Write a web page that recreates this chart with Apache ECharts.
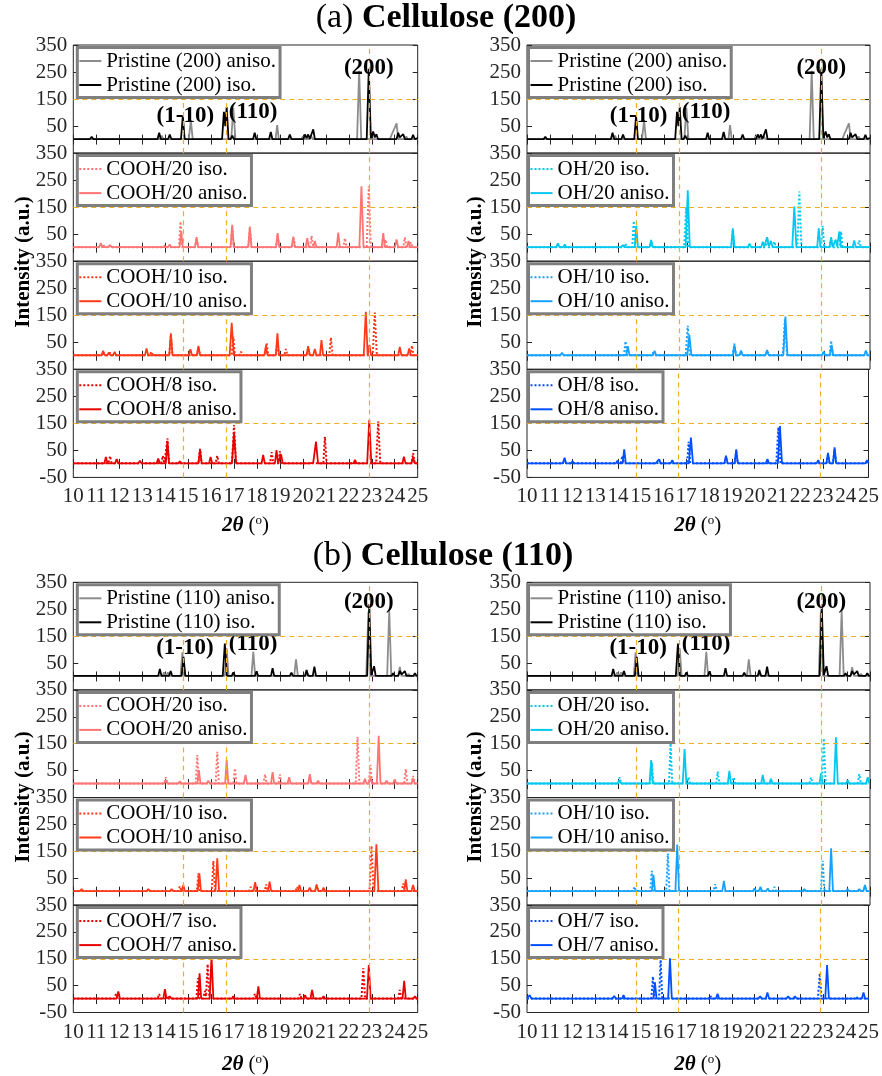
<!DOCTYPE html>
<html>
<head>
<meta charset="utf-8">
<script src="https://cdn.jsdelivr.net/npm/echarts@6/dist/echarts.min.js"></script>
<style>
  html, body { margin: 0; padding: 0; background: #fff; }
  #chart { width: 882px; height: 1076px; }
</style>
</head>
<body>
<div id="chart"></div>
<script>
// ---------- axis ticks / reference lines ----------
const angleTicks = [10, 11, 12, 13, 14, 15, 16, 17, 18, 19, 20, 21, 22, 23, 24, 25];
const intensityTicks = [-50, 50, 150, 250, 350];
const refAngles = [14.78, 16.64, 22.88];
const refIntensity = 150;

// ---------- (a) Cellulose (200): traces as [2θ, intensity] vertices ----------
const pristine200Aniso = [[10,2],[10.73,2],[10.8,8],[10.87,2],[11.33,2],[11.4,8],[11.47,2],[13.78,2],[13.85,15],[13.92,2],[15.03,2],[15.12,72],[15.2,2],[16.88,2],[16.97,118],[17.06,2],[18.81,2],[18.88,54],[18.95,2],[19.93,2],[20.0,12],[20.07,2],[20.28,2],[20.35,15],[20.42,2],[22.36,2],[22.45,255],[22.54,2],[23.79,2],[23.86,17],[23.93,10],[24.08,60],[24.15,2],[24.43,2],[24.5,12],[24.57,2],[25,2]];
const pristine200Iso = [[10,2],[10.73,2],[10.8,10],[10.87,2],[11.13,2],[11.2,8],[11.27,2],[11.43,2],[11.5,8],[11.57,2],[13.67,2],[13.74,25],[13.81,2],[14.13,2],[14.2,19],[14.27,2],[14.69,2],[14.77,88],[14.85,2],[16.48,2],[16.56,103],[16.62,50],[16.68,120],[16.76,2],[16.85,2],[16.92,15],[16.99,2],[17.83,2],[17.9,25],[17.97,2],[18.53,2],[18.6,28],[18.67,2],[19.36,2],[19.43,19],[19.5,2],[20.02,2],[20.09,19],[20.16,5],[20.23,19],[20.3,2],[20.38,2],[20.45,38],[20.52,2],[22.78,2],[22.87,262],[22.96,5],[23.06,30],[23.13,8],[23.2,20],[23.27,2],[24.08,2],[24.15,25],[24.22,8],[24.3,10],[24.37,20],[24.44,2],[24.73,2],[24.8,18],[24.87,2],[25,5]];
const cooh20IsoA = [[10,2],[11.23,2],[11.3,12],[11.37,2],[11.48,2],[11.55,10],[11.62,2],[13.93,2],[14.0,10],[14.07,2],[14.6,2],[14.67,97],[14.74,2],[15.3,2],[15.37,30],[15.44,2],[16.85,2],[16.92,75],[16.99,2],[17.62,2],[17.69,72],[17.76,2],[18.83,2],[18.9,48],[18.97,2],[19.53,2],[19.6,35],[19.67,2],[20.31,2],[20.38,44],[20.45,2],[21.76,2],[21.83,35],[21.9,2],[22.78,2],[22.87,227],[22.96,2],[23.53,2],[23.6,30],[23.67,2],[24.37,2],[24.44,38],[24.51,2],[24.63,2],[24.7,20],[24.77,2],[25,2]];
const cooh20AnisoA = [[10,2],[11.13,2],[11.2,17],[11.27,2],[11.53,2],[11.6,10],[11.67,2],[13.83,2],[13.9,8],[13.97,2],[14.13,2],[14.2,12],[14.27,2],[14.63,2],[14.7,60],[14.77,2],[15.3,2],[15.37,39],[15.44,2],[16.85,2],[16.92,85],[16.99,2],[17.62,2],[17.69,78],[17.76,2],[18.35,2],[18.42,6],[18.49,2],[18.83,2],[18.9,54],[18.97,2],[19.51,2],[19.58,41],[19.65,2],[20.12,2],[20.19,35],[20.26,2],[20.45,2],[20.52,25],[20.59,2],[21.47,2],[21.54,56],[21.61,2],[22.46,2],[22.55,227],[22.64,2],[23.43,2],[23.5,54],[23.57,2],[24.01,2],[24.08,31],[24.15,2],[24.53,2],[24.6,25],[24.67,2],[25,2]];
const cooh10IsoA = [[10,2],[11.23,2],[11.3,12],[11.37,2],[11.53,2],[11.6,12],[11.67,2],[13.33,2],[13.4,15],[13.47,2],[14.18,2],[14.25,78],[14.32,2],[15.38,2],[15.45,30],[15.52,2],[16.9,2],[16.97,70],[17.04,2],[17.23,2],[17.3,15],[17.37,2],[18.35,2],[18.42,48],[18.49,2],[18.82,2],[18.89,50],[18.96,2],[19.19,2],[19.26,25],[19.33,2],[20.16,2],[20.23,30],[20.3,2],[21.15,2],[21.22,68],[21.29,2],[23.04,2],[23.13,160],[23.22,2],[24.68,2],[24.75,38],[24.82,2],[25,2]];
const cooh10AnisoA = [[10,2],[11.23,2],[11.3,18],[11.37,2],[11.48,2],[11.55,12],[11.62,2],[11.73,2],[11.8,14],[11.87,2],[13.12,2],[13.19,27],[13.26,2],[14.18,2],[14.25,83],[14.32,2],[15.03,2],[15.1,24],[15.17,2],[15.38,2],[15.45,37],[15.52,2],[16.81,2],[16.9,122],[16.99,2],[18.32,2],[18.39,37],[18.46,2],[18.82,2],[18.89,83],[18.96,2],[20.16,2],[20.23,36],[20.3,2],[20.45,2],[20.52,25],[20.59,2],[20.74,2],[20.81,58],[20.88,2],[22.65,2],[22.74,163],[22.82,2],[22.9,40],[22.97,2],[24.15,2],[24.22,33],[24.29,2],[24.56,2],[24.63,27],[24.7,2],[25,2]];
const cooh8IsoA = [[10,2],[11.53,2],[11.6,29],[11.67,2],[11.83,2],[11.9,15],[11.97,2],[13.83,2],[13.9,30],[13.97,2],[14.03,2],[14.1,94],[14.17,2],[15.45,2],[15.52,56],[15.59,2],[16.2,2],[16.27,30],[16.34,2],[16.91,2],[17.0,144],[17.09,2],[18.57,2],[18.64,43],[18.71,2],[18.93,2],[19.0,47],[19.07,2],[20.89,2],[20.96,100],[21.03,2],[23.19,2],[23.28,158],[23.37,2],[24.73,2],[24.8,40],[24.87,2],[25,2]];
const cooh8AnisoA = [[10,2],[11.35,2],[11.42,26],[11.49,2],[11.82,2],[11.89,18],[11.96,2],[12.83,2],[12.9,12],[12.97,2],[13.63,2],[13.7,20],[13.77,2],[14.03,2],[14.1,85],[14.17,2],[14.57,2],[14.64,10],[14.71,2],[15.45,2],[15.52,54],[15.59,2],[15.91,2],[15.98,26],[16.05,2],[16.91,2],[17.0,113],[17.09,2],[18.2,2],[18.27,33],[18.34,2],[18.78,2],[18.85,51],[18.92,2],[18.98,2],[19.05,35],[19.12,2],[20.31,2],[20.38,8],[20.45,5],[20.57,82],[20.66,2],[22.2,2],[22.27,15],[22.34,2],[22.8,2],[22.89,162],[22.98,2],[24.33,2],[24.4,27],[24.47,2],[24.73,2],[24.8,25],[24.87,2],[25,2]];
const oh20IsoA = [[10,2],[11.28,2],[11.35,12],[11.42,2],[14.23,2],[14.3,15],[14.37,2],[14.6,2],[14.67,99],[14.74,2],[15.36,2],[15.43,22],[15.5,2],[16.87,2],[16.96,150],[17.05,2],[18.93,2],[19.0,65],[19.07,2],[20.43,2],[20.5,35],[20.57,2],[20.75,2],[20.82,22],[20.89,2],[21.82,2],[21.91,208],[22.0,2],[22.86,2],[22.93,81],[23.0,2],[23.23,2],[23.3,30],[23.37,2],[23.66,2],[23.73,60],[23.8,2],[24.46,2],[24.53,27],[24.6,2],[25,2]];
const oh20AnisoA = [[10,2],[11.28,2],[11.35,16],[11.42,2],[11.58,2],[11.65,12],[11.72,2],[14.12,2],[14.19,10],[14.26,2],[14.71,2],[14.78,81],[14.85,2],[15.36,2],[15.43,29],[15.5,2],[16.94,2],[17.03,212],[17.12,2],[17.69,2],[17.76,8],[17.83,2],[18.93,2],[19.0,72],[19.07,2],[19.66,2],[19.73,15],[19.8,2],[20.24,2],[20.31,22],[20.38,5],[20.5,39],[20.58,5],[20.67,25],[20.74,2],[21.6,2],[21.69,152],[21.78,2],[22.69,2],[22.76,72],[22.83,2],[23.23,2],[23.3,39],[23.37,2],[23.45,2],[23.5,30],[23.56,5],[23.66,60],[23.73,2],[24.24,2],[24.31,27],[24.38,2],[25,2]];
const oh10IsoA = [[10,2],[11.46,2],[11.53,8],[11.6,2],[14.24,2],[14.31,54],[14.38,2],[15.43,2],[15.5,12],[15.57,2],[16.94,2],[17.03,111],[17.12,2],[19.0,2],[19.07,45],[19.14,2],[19.29,2],[19.36,15],[19.43,2],[20.43,2],[20.5,18],[20.57,2],[21.19,2],[21.28,135],[21.37,2],[23.23,2],[23.3,56],[23.37,2],[24.75,2],[24.82,15],[24.89,2],[25,2]];
const oh10AnisoA = [[10,2],[11.46,2],[11.53,11],[11.6,2],[11.87,2],[11.94,5],[12.01,2],[13.47,2],[13.54,8],[13.61,2],[14.34,2],[14.41,36],[14.48,2],[15.51,2],[15.58,18],[15.65,2],[17.01,2],[17.1,77],[17.19,2],[17.33,2],[17.4,8],[17.47,2],[19.0,2],[19.07,40],[19.14,2],[19.29,2],[19.36,19],[19.43,2],[20.43,2],[20.5,21],[20.57,2],[21.21,2],[21.3,145],[21.39,2],[22.9,2],[22.97,15],[23.04,2],[23.25,2],[23.32,40],[23.39,2],[24.75,2],[24.82,19],[24.89,2],[25,2]];
const oh8IsoA = [[10,2],[11.58,2],[11.65,18],[11.72,2],[14.12,2],[14.19,30],[14.26,2],[15.73,2],[15.8,15],[15.87,2],[17.03,2],[17.1,82],[17.17,2],[18.67,2],[18.74,25],[18.81,2],[19.12,2],[19.19,45],[19.26,2],[20.95,2],[21.04,135],[21.13,2],[23.15,2],[23.22,35],[23.29,2],[23.44,2],[23.51,55],[23.58,2],[24.87,2],[24.94,14],[25,2]];
const oh8AnisoA = [[10,2],[11.58,2],[11.65,23],[11.72,2],[11.93,2],[12.0,10],[12.07,2],[13.9,2],[13.97,12],[14.04,2],[14.2,2],[14.27,54],[14.34,2],[14.63,2],[14.7,6],[14.77,2],[15.51,2],[15.58,8],[15.65,2],[15.73,2],[15.8,17],[15.87,2],[16.31,2],[16.38,14],[16.45,2],[17.11,2],[17.2,97],[17.29,2],[18.67,2],[18.74,30],[18.81,2],[19.12,2],[19.19,54],[19.26,2],[20.49,2],[20.56,18],[20.63,2],[21.02,2],[21.11,140],[21.2,2],[22.72,2],[22.79,14],[22.86,2],[23.15,2],[23.22,41],[23.29,2],[23.44,2],[23.51,61],[23.58,2],[24.87,2],[24.94,14],[25,2]];

// ---------- (b) Cellulose (110) ----------
const pristine110Aniso = [[10,2],[10.83,2],[10.9,5],[10.97,2],[13.88,2],[13.95,15],[14.02,2],[14.05,2],[14.12,15],[14.19,2],[14.67,2],[14.75,90],[14.83,2],[16.6,2],[16.68,105],[16.76,2],[17.76,2],[17.84,92],[17.92,2],[19.62,2],[19.7,64],[19.78,2],[20.13,2],[20.2,12],[20.27,2],[22.76,2],[22.85,240],[22.94,2],[23.67,2],[23.76,245],[23.85,2],[24.15,2],[24.22,35],[24.29,2],[24.53,2],[24.6,10],[24.67,2],[25,2]];
const pristine110Iso = [[10,2],[10.8,2],[10.87,7],[10.94,2],[11.23,2],[11.3,5],[11.37,2],[13.7,2],[13.77,28],[13.84,2],[14.17,2],[14.24,20],[14.31,2],[14.72,2],[14.8,73],[14.88,2],[16.51,2],[16.6,122],[16.69,2],[16.9,2],[16.97,15],[17.04,2],[17.91,2],[17.98,19],[18.05,2],[18.61,2],[18.68,31],[18.75,2],[19.43,2],[19.5,14],[19.57,2],[20.09,2],[20.16,24],[20.23,2],[20.43,2],[20.5,36],[20.57,2],[22.8,2],[22.89,268],[22.98,5],[23.1,38],[23.17,2],[23.86,2],[23.93,12],[24.0,2],[24.15,2],[24.22,20],[24.3,8],[24.44,20],[24.51,2],[24.81,2],[24.88,12],[24.95,2],[25,2]];
const cooh20IsoB = [[10,2],[11.23,2],[11.3,6],[11.37,2],[13.96,2],[14.03,25],[14.1,2],[15.33,2],[15.4,108],[15.47,2],[16.2,2],[16.27,120],[16.34,2],[16.97,2],[17.04,58],[17.11,2],[18.28,2],[18.35,36],[18.42,2],[18.93,2],[19.0,36],[19.07,2],[20.23,2],[20.3,20],[20.37,2],[22.3,2],[22.38,176],[22.46,2],[22.87,2],[22.94,71],[23.01,2],[24.41,2],[24.48,56],[24.55,2],[24.73,2],[24.8,30],[24.87,2],[25,2]];
const cooh20AnisoB = [[10,2],[11.23,2],[11.3,6],[11.37,2],[11.73,2],[11.8,8],[11.87,2],[13.96,2],[14.03,15],[14.1,2],[14.57,2],[14.64,10],[14.71,2],[15.4,2],[15.47,52],[15.54,2],[15.81,2],[15.88,12],[15.95,2],[16.61,2],[16.68,89],[16.75,2],[17.43,2],[17.5,34],[17.57,2],[18.61,2],[18.68,44],[18.75,2],[19.33,2],[19.4,25],[19.47,2],[20.23,2],[20.3,37],[20.37,2],[20.59,2],[20.66,12],[20.73,2],[22.63,2],[22.7,20],[22.77,2],[22.87,2],[22.94,25],[23.01,2],[23.22,2],[23.3,179],[23.38,2],[23.57,2],[23.64,12],[23.71,2],[23.93,2],[24.0,18],[24.07,2],[24.73,2],[24.8,21],[24.87,2],[25,2]];
const cooh10IsoB = [[10,2],[11.73,2],[11.8,6],[11.87,2],[14.57,2],[14.64,20],[14.71,2],[15.38,2],[15.45,68],[15.52,2],[16.03,2],[16.1,114],[16.17,2],[17.66,2],[17.73,18],[17.8,2],[18.33,2],[18.4,27],[18.47,2],[19.68,2],[19.75,18],[19.82,2],[20.53,2],[20.6,20],[20.67,2],[22.9,2],[22.99,170],[23.08,2],[24.3,2],[24.37,30],[24.44,2],[25,2]];
const cooh10AnisoB = [[10,2],[10.29,2],[10.36,10],[10.43,2],[11.73,2],[11.8,8],[11.87,2],[13.2,2],[13.27,10],[13.34,2],[14.21,2],[14.28,10],[14.35,2],[14.72,2],[14.79,25],[14.86,2],[15.42,2],[15.49,68],[15.56,2],[16.19,2],[16.27,124],[16.35,2],[17.85,2],[17.92,35],[17.99,2],[18.48,2],[18.55,37],[18.62,2],[19.78,2],[19.85,25],[19.92,2],[20.23,2],[20.3,15],[20.37,2],[20.53,2],[20.6,27],[20.67,2],[20.83,2],[20.9,15],[20.97,2],[22.03,2],[22.1,8],[22.17,2],[23.11,2],[23.2,176],[23.29,2],[24.41,2],[24.48,46],[24.55,2],[24.73,2],[24.8,25],[24.87,2],[25,2]];
const cooh7IsoB = [[10,2],[11.79,2],[11.86,20],[11.93,2],[13.67,2],[13.74,19],[13.81,2],[15.36,2],[15.43,78],[15.5,2],[15.66,2],[15.73,30],[15.78,10],[15.85,130],[15.93,2],[17.84,2],[17.91,20],[17.98,2],[19.8,2],[19.87,19],[19.94,2],[22.55,2],[22.63,115],[22.71,2],[24.15,2],[24.22,34],[24.29,2],[25,2]];
const cooh7AnisoB = [[10,2],[11.89,2],[11.96,28],[12.03,2],[12.25,2],[12.32,8],[12.39,2],[13.92,2],[13.99,37],[14.06,2],[14.13,2],[14.2,10],[14.27,2],[14.86,2],[14.93,8],[15.0,2],[15.43,2],[15.5,96],[15.57,2],[15.94,2],[16.02,160],[16.1,2],[16.9,2],[16.97,10],[17.04,2],[17.99,2],[18.06,47],[18.13,2],[20.02,2],[20.09,15],[20.16,2],[20.33,2],[20.4,34],[20.47,2],[20.83,2],[20.9,10],[20.97,2],[22.79,2],[22.87,127],[22.95,2],[24.34,2],[24.41,68],[24.48,2],[24.81,2],[24.88,10],[24.95,2],[25,2]];
const oh20IsoB = [[10,2],[13.98,2],[14.05,25],[14.12,2],[15.39,2],[15.46,80],[15.53,2],[16.21,2],[16.28,151],[16.35,2],[16.99,2],[17.06,25],[17.13,2],[18.27,2],[18.34,46],[18.41,2],[18.97,2],[19.04,25],[19.11,2],[22.35,2],[22.42,25],[22.49,2],[22.9,2],[22.98,170],[23.06,2],[24.46,2],[24.53,37],[24.6,2],[25,2]];
const oh20AnisoB = [[10,2],[11.36,2],[11.43,8],[11.5,2],[13.98,2],[14.05,15],[14.12,2],[15.36,2],[15.43,89],[15.5,2],[16.81,2],[16.89,130],[16.97,2],[18.78,2],[18.85,49],[18.92,2],[20.24,2],[20.31,34],[20.38,2],[20.6,2],[20.67,20],[20.74,2],[22.79,2],[22.86,40],[22.93,2],[23.43,2],[23.51,174],[23.59,2],[23.95,2],[24.02,15],[24.09,2],[24.83,2],[24.9,25],[24.97,2],[25,2]];
const oh10IsoB = [[10,2],[14.63,2],[14.7,18],[14.77,2],[15.39,2],[15.46,77],[15.53,2],[16.09,2],[16.16,142],[16.23,2],[18.16,2],[18.23,28],[18.3,2],[20.75,2],[20.82,18],[20.89,2],[22.85,2],[22.93,115],[23.01,2],[24.71,2],[24.78,20],[24.85,2],[25,2]];
const oh10AnisoB = [[10,2],[13.4,2],[13.47,8],[13.54,2],[13.76,2],[13.83,8],[13.9,2],[14.27,2],[14.34,8],[14.41,2],[15.46,2],[15.53,62],[15.6,2],[16.49,2],[16.57,175],[16.65,2],[18.54,2],[18.61,40],[18.68,2],[19.88,2],[19.95,12],[20.02,2],[20.14,2],[20.21,18],[20.28,2],[20.46,2],[20.53,12],[20.6,2],[22.06,2],[22.13,10],[22.2,2],[23.22,2],[23.3,161],[23.38,2],[23.95,2],[24.02,10],[24.09,2],[24.46,2],[24.53,10],[24.6,2],[24.71,2],[24.78,25],[24.85,2],[25,2]];
const oh7IsoB = [[10,2],[15.46,2],[15.53,84],[15.6,2],[15.8,2],[15.87,146],[15.94,2],[17.98,2],[18.05,12],[18.12,2],[22.78,2],[22.86,96],[22.94,2],[24.39,2],[24.46,10],[24.53,2],[25,2]];
const oh7AnisoB = [[10,2],[10.05,2],[10.12,15],[10.19,2],[12.09,2],[12.16,8],[12.23,2],[13.76,2],[13.83,12],[13.9,2],[14.17,2],[14.24,15],[14.31,2],[15.55,2],[15.62,62],[15.69,2],[16.2,2],[16.28,152],[16.36,2],[16.96,2],[17.03,8],[17.1,2],[18.3,2],[18.37,20],[18.44,2],[20.17,2],[20.24,10],[20.31,2],[20.49,2],[20.56,25],[20.63,2],[21.4,2],[21.47,10],[21.54,2],[21.7,2],[21.77,10],[21.84,2],[23.1,2],[23.18,127],[23.26,2],[24.71,2],[24.78,25],[24.85,2],[25,2]];

// ---------- peak annotations ([2θ, intensity, text]) ----------
const peakLabelsA = [[14.88, 88, '(1-10)'], [17.83, 103, '(110)'], [22.87, 264, '(200)']];
const peakLabelsB = [[14.86, 105, '(1-10)'], [17.83, 121, '(110)'], [22.87, 275, '(200)']];

// ---------- panel layout ----------
const FONT = 'Liberation Serif';
const AXIS_COLOR = '#262626';
const REF_COLOR = '#EDB120';
const COLS = [{ left: 73.3, width: 344.4, legendDx: 4 }, { left: 527, width: 343, legendDx: 1.5 }];
const SECTIONS = [{ top: 45, h: 108.1, nameGap: 37 }, { top: 582.3, h: 107.6, nameGap: 41 }];

const C = {
  gray: '#8c8c8c', black: '#000000',
  cooh20: '#ff7575', cooh10: '#ff3a1a', cooh8: '#e80000',
  oh20: '#00c8f0', oh10: '#17a2ff', oh8: '#0050ff'
};

function pair(isoName, isoData, anisoName, anisoData, color) {
  return [
    { name: isoName, data: isoData, color, dash: 'dotted' },
    { name: anisoName, data: anisoData, color, dash: 'solid' }
  ];
}

const panels = [
  // (a) left
  { sec: 0, col: 0, row: 0, labels: peakLabelsA, lines: [
    { name: 'Pristine (200) aniso.', data: pristine200Aniso, color: C.gray, dash: 'solid' },
    { name: 'Pristine (200) iso.', data: pristine200Iso, color: C.black, dash: 'solid' }] },
  { sec: 0, col: 0, row: 1, lines: pair('COOH/20 iso.', cooh20IsoA, 'COOH/20 aniso.', cooh20AnisoA, C.cooh20) },
  { sec: 0, col: 0, row: 2, lines: pair('COOH/10 iso.', cooh10IsoA, 'COOH/10 aniso.', cooh10AnisoA, C.cooh10) },
  { sec: 0, col: 0, row: 3, lines: pair('COOH/8 iso.', cooh8IsoA, 'COOH/8 aniso.', cooh8AnisoA, C.cooh8) },
  // (a) right
  { sec: 0, col: 1, row: 0, labels: peakLabelsA, lines: [
    { name: 'Pristine (200) aniso.', data: pristine200Aniso, color: C.gray, dash: 'solid' },
    { name: 'Pristine (200) iso.', data: pristine200Iso, color: C.black, dash: 'solid' }] },
  { sec: 0, col: 1, row: 1, lines: pair('OH/20 iso.', oh20IsoA, 'OH/20 aniso.', oh20AnisoA, C.oh20) },
  { sec: 0, col: 1, row: 2, lines: pair('OH/10 iso.', oh10IsoA, 'OH/10 aniso.', oh10AnisoA, C.oh10) },
  { sec: 0, col: 1, row: 3, lines: pair('OH/8 iso.', oh8IsoA, 'OH/8 aniso.', oh8AnisoA, C.oh8) },
  // (b) left
  { sec: 1, col: 0, row: 0, labels: peakLabelsB, lines: [
    { name: 'Pristine (110) aniso.', data: pristine110Aniso, color: C.gray, dash: 'solid' },
    { name: 'Pristine (110) iso.', data: pristine110Iso, color: C.black, dash: 'solid' }] },
  { sec: 1, col: 0, row: 1, lines: pair('COOH/20 iso.', cooh20IsoB, 'COOH/20 aniso.', cooh20AnisoB, C.cooh20) },
  { sec: 1, col: 0, row: 2, lines: pair('COOH/10 iso.', cooh10IsoB, 'COOH/10 aniso.', cooh10AnisoB, C.cooh10) },
  { sec: 1, col: 0, row: 3, lines: pair('COOH/7 iso.', cooh7IsoB, 'COOH/7 aniso.', cooh7AnisoB, C.cooh8) },
  // (b) right
  { sec: 1, col: 1, row: 0, labels: peakLabelsB, lines: [
    { name: 'Pristine (110) aniso.', data: pristine110Aniso, color: C.gray, dash: 'solid' },
    { name: 'Pristine (110) iso.', data: pristine110Iso, color: C.black, dash: 'solid' }] },
  { sec: 1, col: 1, row: 1, lines: pair('OH/20 iso.', oh20IsoB, 'OH/20 aniso.', oh20AnisoB, C.oh20) },
  { sec: 1, col: 1, row: 2, lines: pair('OH/10 iso.', oh10IsoB, 'OH/10 aniso.', oh10AnisoB, C.oh10) },
  { sec: 1, col: 1, row: 3, lines: pair('OH/7 iso.', oh7IsoB, 'OH/7 aniso.', oh7AnisoB, C.oh8) }
];

const grids = [], xAxes = [], yAxes = [], series = [], legends = [];
const tickStyle = { inside: true, length: 5, lineStyle: { color: AXIS_COLOR, width: 1 } };
const labelFont = { fontSize: 21, fontFamily: FONT, color: AXIS_COLOR };

panels.forEach((p, i) => {
  const col = COLS[p.col], sec = SECTIONS[p.sec];
  const top = sec.top + p.row * sec.h;
  const isBottom = p.row === 3;
  grids.push({ left: col.left, top: top, width: col.width, height: sec.h,
    show: true, borderColor: AXIS_COLOR, borderWidth: 1, backgroundColor: 'transparent', containLabel: false });

  const xBase = { gridIndex: i, type: 'value', min: angleTicks[0], max: angleTicks[angleTicks.length - 1],
    interval: angleTicks[1] - angleTicks[0], axisLine: { show: false }, axisTick: tickStyle, splitLine: { show: false } };
  xAxes.push(Object.assign({}, xBase, {
    position: 'bottom',
    axisLabel: Object.assign({ show: isBottom, margin: 9 }, labelFont),
    name: isBottom ? '{b|2}{t|θ}{n| (}{s|o}{n|)}' : '',
    nameLocation: 'middle', nameGap: sec.nameGap,
    nameTextStyle: { rich: {
      b: { fontSize: 21, fontFamily: FONT, fontWeight: 'bold', fontStyle: 'italic', color: '#000' },
      t: { fontSize: 21, fontFamily: FONT, fontWeight: 'bold', fontStyle: 'italic', color: '#000' },
      n: { fontSize: 21, fontFamily: FONT, color: '#000' },
      s: { fontSize: 13, fontFamily: FONT, color: '#000', padding: [0, 0, 9, 0] }
    } }
  }));
  xAxes.push(Object.assign({}, xBase, { position: 'top', axisLabel: { show: false } }));

  const yBase = { gridIndex: i, type: 'value', min: intensityTicks[0], max: intensityTicks[intensityTicks.length - 1],
    interval: intensityTicks[1] - intensityTicks[0], axisLine: { show: false }, axisTick: tickStyle, splitLine: { show: false } };
  yAxes.push(Object.assign({}, yBase, { position: 'left',
    axisLabel: Object.assign({ show: true, margin: 6, showMinLabel: isBottom, showMaxLabel: true }, labelFont) }));
  yAxes.push(Object.assign({}, yBase, { position: 'right', axisLabel: { show: false } }));

  p.lines.forEach((ln, k) => {
    const s = {
      type: 'line', name: ln.name, xAxisIndex: 2 * i, yAxisIndex: 2 * i, data: ln.data,
      symbol: 'none', showSymbol: false, animation: false, silent: true,
      color: ln.color,
      lineStyle: { color: ln.color, width: ln.dash === 'dotted' ? 2 : 1.8, type: ln.dash },
      itemStyle: { color: ln.color },
      z: 2 + k
    };
    if (k === 0) {
      s.markLine = {
        silent: true, symbol: 'none', animation: false, label: { show: false },
        lineStyle: { color: REF_COLOR, type: [5, 4], width: 1.2 },
        data: refAngles.map(a => ({ xAxis: a })).concat([{ yAxis: refIntensity }])
      };
    }
    series.push(s);
  });

  if (p.labels) {
    series.push({
      type: 'scatter', name: 'peaks' + i, xAxisIndex: 2 * i, yAxisIndex: 2 * i, silent: true, animation: false,
      symbolSize: 0, itemStyle: { color: '#000' }, z: 6,
      data: p.labels.map(d => ({ value: [d[0], d[1]], name: d[2] })),
      label: { show: true, position: 'inside', formatter: '{b}', fontSize: 23, fontWeight: 'bold',
        fontFamily: FONT, color: '#000', textBorderWidth: 0, opacity: 1 }
    });
  }

  legends.push({
    data: p.lines.map(l => l.name), orient: 'vertical',
    left: col.left + col.legendDx, top: top + 2.5,
    backgroundColor: '#fff', borderColor: '#7f7f7f', borderWidth: 3, borderRadius: 0,
    padding: [2, 4, 1, 1], itemGap: 1, itemWidth: 22, itemHeight: 12,
    selectedMode: false, z: 10,
    itemStyle: { opacity: 0 },
    textStyle: { fontSize: 21, fontFamily: FONT, color: '#000', lineHeight: 23 }
  });
});

const titleRich = {
  n: { fontSize: 34, fontFamily: FONT, color: '#000' },
  b: { fontSize: 34, fontFamily: FONT, fontWeight: 'bold', color: '#000' }
};
const yNameStyle = { text: 'Intensity (a.u.)', font: 'bold 21px "Liberation Serif"', fill: '#000',
  align: 'center', verticalAlign: 'middle', textAlign: 'center', textVerticalAlign: 'middle' };

const graphic = [
  { type: 'text', x: 446, y: 18, z: 20, style: { text: '{n|(a) }{b|Cellulose (200)}', rich: titleRich,
    align: 'center', verticalAlign: 'middle', textAlign: 'center', textVerticalAlign: 'middle' } },
  { type: 'text', x: 443, y: 556, z: 20, style: { text: '{n|(b) }{b|Cellulose (110)}', rich: titleRich,
    align: 'center', verticalAlign: 'middle', textAlign: 'center', textVerticalAlign: 'middle' } },
  { type: 'text', x: 24, y: 262, rotation: Math.PI / 2, style: yNameStyle },
  { type: 'text', x: 476, y: 262, rotation: Math.PI / 2, style: yNameStyle },
  { type: 'text', x: 24, y: 797, rotation: Math.PI / 2, style: yNameStyle },
  { type: 'text', x: 476, y: 797, rotation: Math.PI / 2, style: yNameStyle }
];

const chart = echarts.init(document.getElementById('chart'), null, { renderer: 'canvas' });
chart.setOption({
  backgroundColor: '#ffffff',
  animation: false,
  grid: grids,
  xAxis: xAxes,
  yAxis: yAxes,
  legend: legends,
  series: series,
  graphic: graphic
});
</script>
</body>
</html>
